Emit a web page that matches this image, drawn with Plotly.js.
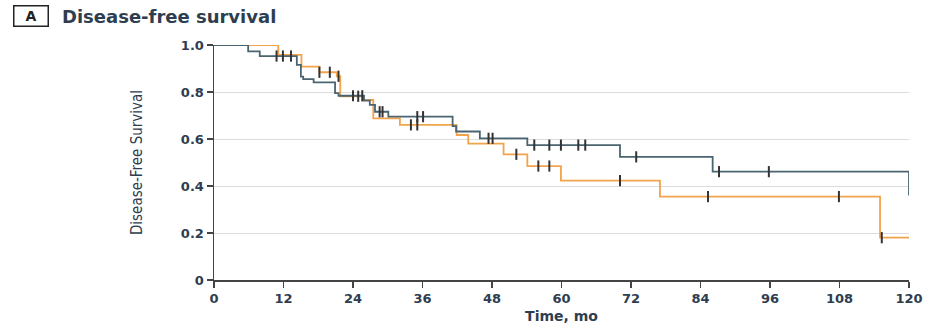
<!DOCTYPE html>
<html>
<head>
<meta charset="utf-8">
<script src="https://cdn.plot.ly/plotly-3.0.1.min.js"></script>
<style>
  html, body { margin: 0; padding: 0; background: #ffffff; }
  #chart { width: 928px; height: 325px; }
</style>
</head>
<body>
<div id="chart"></div>
<script>
// Kaplan-Meier step data (time in months, survival probability)
const darkTimes = [0, 5.9, 7.9, 14.3, 15.0, 15.4, 17.2, 20.9, 21.5, 25.9, 26.9, 27.8, 30.1, 41.2, 41.8, 45.9, 54.1, 70.1, 86.1, 120];
const darkSurv  = [1.0, 0.973, 0.953, 0.915, 0.865, 0.855, 0.841, 0.795, 0.784, 0.763, 0.745, 0.716, 0.695, 0.655, 0.632, 0.603, 0.574, 0.524, 0.461, 0.360];
const darkCensor = [10.8, 11.9, 13.3, 24.0, 25.6, 28.6, 29.1, 35.1, 36.1, 47.4, 48.1, 55.3, 57.9, 59.9, 62.9, 64.1, 72.9, 87.2, 95.8];

const orangeTimes = [0, 11.1, 15.1, 18.2, 21.2, 21.8, 25.7, 27.5, 32.1, 41.9, 43.9, 50.0, 54.1, 59.9, 77.0, 115.0, 120];
const orangeSurv  = [1.0, 0.958, 0.908, 0.884, 0.867, 0.782, 0.766, 0.688, 0.660, 0.617, 0.580, 0.535, 0.485, 0.423, 0.355, 0.180, 0.180];
const orangeCensor = [18.2, 20.0, 21.5, 24.9, 34.0, 35.1, 52.2, 56.0, 57.9, 70.1, 85.3, 107.9, 115.3];

const xTicks = [0, 12, 24, 36, 48, 60, 72, 84, 96, 108, 120];
const yTicks = [0, 0.2, 0.4, 0.6, 0.8, 1.0];
const yTickText = ["0", "0.2", "0.4", "0.6", "0.8", "1.0"];

function stepLookup(times, surv, t) {
  let v = surv[0];
  for (let i = 0; i < times.length; i++) {
    if (times[i] <= t) v = surv[i]; else break;
  }
  return v;
}

const DARK = '#4a6470';
const ORANGE = '#f2a34c';
const TICKCOL = '#333333';
const TEXTCOL = '#2e3d4f';

const censorMarker = { symbol: 'line-ns-open', size: 8, color: TICKCOL, line: { color: TICKCOL, width: 2 } };

const traces = [
  { x: orangeTimes, y: orangeSurv, type: 'scatter', mode: 'lines', line: { shape: 'hv', color: ORANGE, width: 1.8 }, name: 'Group B', hoverinfo: 'skip' },
  { x: darkTimes, y: darkSurv, type: 'scatter', mode: 'lines', line: { shape: 'hv', color: DARK, width: 1.8 }, name: 'Group A', hoverinfo: 'skip' },
  { x: orangeCensor, y: orangeCensor.map(t => stepLookup(orangeTimes, orangeSurv, t)), type: 'scatter', mode: 'markers',
    marker: censorMarker, name: 'Censored B', hoverinfo: 'skip' },
  { x: darkCensor, y: darkCensor.map(t => stepLookup(darkTimes, darkSurv, t)), type: 'scatter', mode: 'markers',
    marker: censorMarker, name: 'Censored A', hoverinfo: 'skip' }
];

const layout = {
  width: 928, height: 325,
  margin: { l: 214, r: 19, t: 45, b: 45 },
  paper_bgcolor: '#ffffff', plot_bgcolor: '#ffffff',
  showlegend: false,
  title: {
    text: 'Disease-free survival',
    xref: 'container', yref: 'container',
    x: 62 / 928, xanchor: 'left',
    y: 1 - 16.5 / 325, yanchor: 'middle',
    font: { family: 'DejaVu Sans', size: 18, weight: 'bold', color: TEXTCOL }
  },
  xaxis: {
    range: [0, 120], tickvals: xTicks, ticktext: xTicks.map(String),
    showgrid: false, zeroline: false,
    showline: true, linecolor: '#444', linewidth: 1.5,
    ticks: 'outside', ticklen: 6, tickwidth: 1.5, tickcolor: '#444',
    tickfont: { family: 'DejaVu Sans', size: 13, weight: 'bold', color: TEXTCOL },
    title: { text: 'Time, mo', standoff: 6, font: { family: 'DejaVu Sans', size: 14, weight: 'bold', color: TEXTCOL } },
    fixedrange: true
  },
  yaxis: {
    range: [0, 1], tickvals: yTicks, ticktext: yTickText,
    showgrid: true, gridcolor: '#dcdcdc', gridwidth: 1, zeroline: false,
    showline: true, linecolor: '#444', linewidth: 1.5,
    ticks: 'outside', ticklen: 6, tickwidth: 1.5, tickcolor: '#444',
    tickfont: { family: 'DejaVu Sans', size: 13, weight: 'bold', color: TEXTCOL },
    title: { text: 'Disease-Free Survival', standoff: 34, font: { family: 'DejaVu Sans Condensed, Liberation Sans Narrow, sans-serif', size: 15, color: TEXTCOL } },
    fixedrange: true
  },
  annotations: [
    { text: 'A', xref: 'paper', yref: 'paper', x: (30.5 - 214) / 695, y: (280 - 16.5) / 235,
      xanchor: 'center', yanchor: 'middle', showarrow: false,
      width: 31, height: 17, borderpad: 1, bordercolor: '#222', borderwidth: 1.5,
      font: { family: 'DejaVu Sans', size: 14, weight: 'bold', color: '#222' } }
  ]
};

Plotly.newPlot('chart', traces, layout, { displayModeBar: false, staticPlot: true });
</script>
</body>
</html>
